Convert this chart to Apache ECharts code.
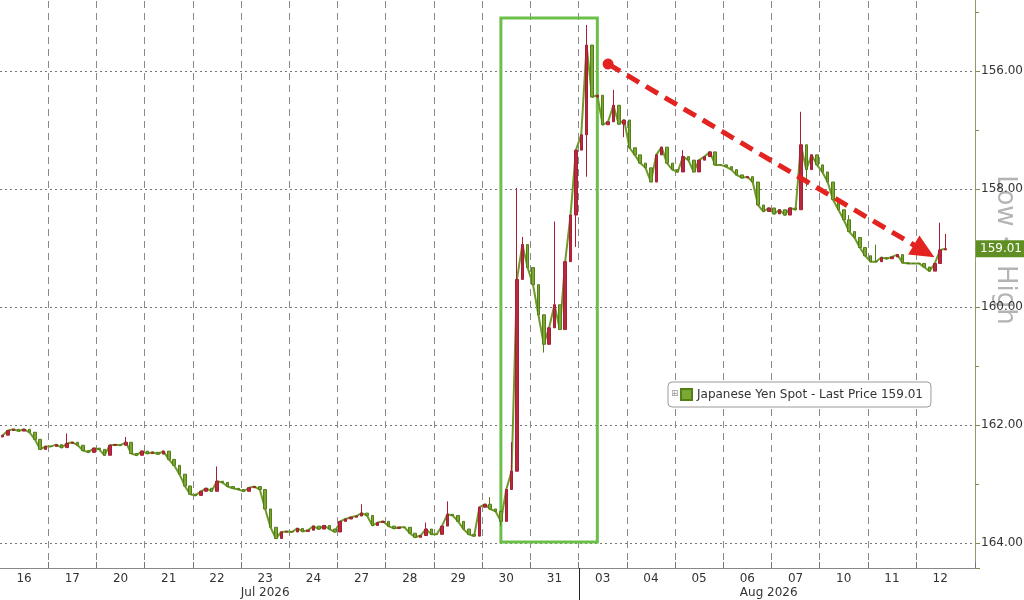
<!DOCTYPE html>
<html><head><meta charset="utf-8">
<script src="https://cdn.jsdelivr.net/npm/echarts@6/dist/echarts.min.js"></script>
<style>html,body{margin:0;padding:0;background:#fff;overflow:hidden;width:1024px;height:600px;position:relative}
#c{position:absolute;left:0;top:-47px;width:1024px;height:647px}</style>
</head><body><div id="c"></div>
<script>
// ---- data ----
const days = ['16','17','20','21','22','23','24','27','28','29','30','31','03','04','05','06','07','10','11','12'];
const monthNames = ['Jul 2026', 'Aug 2026'];
const monthLabelSlots = [49, 143];
const monthStartSlot = 108;
const slotsPerDay = 9;
const totalSlots = 182;
const firstOpen = 162.20;
const closes = [
  162.17,162.09,162.07,162.10,162.07,162.12,162.24,162.41,162.36,
  162.36,162.33,162.38,162.31,162.29,162.34,162.43,162.46,162.39,
  162.41,162.51,162.34,162.33,162.34,162.29,162.48,162.51,162.44,
  162.48,162.46,162.49,162.44,162.58,162.68,162.83,163.03,163.17,
  163.19,163.12,163.07,163.12,162.95,162.97,163.04,163.07,163.09,
  163.12,163.06,163.04,163.09,163.42,163.73,163.92,163.81,163.80,
  163.81,163.75,163.80,163.78,163.71,163.76,163.70,163.76,163.81,
  163.63,163.59,163.56,163.54,163.49,163.53,163.70,163.65,163.63,
  163.71,163.75,163.73,163.73,163.83,163.90,163.87,163.76,163.85,
  163.85,163.71,163.51,163.53,163.63,163.76,163.85,163.88,163.39,
  163.34,163.42,163.46,163.63,163.09,162.78,159.53,158.94,159.33,
  159.62,160.13,160.63,160.35,159.96,160.38,159.23,158.44,157.34,
  157.08,155.56,156.44,156.41,156.91,156.86,156.58,156.90,156.83,
  157.30,157.42,157.56,157.64,157.88,157.42,157.29,157.56,157.67,
  157.71,157.45,157.51,157.71,157.51,157.45,157.37,157.59,157.59,
  157.62,157.67,157.76,157.81,157.79,157.88,158.27,158.38,158.32,
  158.42,158.35,158.44,158.32,158.35,157.25,157.67,157.42,157.59,
  157.71,157.88,158.18,158.35,158.52,158.72,158.82,158.99,159.13,
  159.23,159.23,159.16,159.18,159.15,159.11,159.25,159.26,159.26,
  159.26,159.32,159.39,159.26,159.03,159.01
];
const spikes = [
  [12,162.14],[23,162.20],[40,162.70],[67,163.34],[79,163.65],[83,163.29],
  [91,163.22],[93,163.71],[95,162.29],[96,157.98],[97,158.81],
  [101,160.77],[103,158.55],[107,158.98],
  [109,155.22],[109,157.79],[114,156.32],[116,157.12],
  [127,157.34],[149,156.69],[150,157.96],[158,158.44],[163,158.94],
  [175,158.57],[176,158.76]
];
const lastPrice = 159.01;
const seriesName = 'Japanese Yen Spot - Last Price 159.01';
const boxCorners = [[93,155.10],[111,163.98]];
const arrowEnds = [[113,155.88],[172,159.05]];
const yMin = 154, yMax = 164.42;

// ---- build ----
const slotIds = Array.from({length: totalSlots}, (_, i) => String(i));
const candles = [];
let prev = firstOpen;
closes.forEach(c => { candles.push([prev, c, Math.min(prev, c), Math.max(prev, c)]); prev = c; });
spikes.forEach(([i, v]) => { candles[i][2] = Math.min(candles[i][2], v); candles[i][3] = Math.max(candles[i][3], v); });

const nDaySlots = days.length * slotsPerDay;
const isDayBoundary = i => { const n = Number(i); return n % slotsPerDay === 0 && n > 0 && n < nDaySlots; };
const font = 'DejaVu Sans';

const chart = echarts.init(document.getElementById('c'), null, {renderer: 'canvas'});
chart.setOption({
  animation: false,
  backgroundColor: '#fff',
  grid: {left: 0, right: 49, top: 0, bottom: 32, containLabel: false, outerBoundsMode: 'none'},
  legend: {
    left: 668, top: 429, padding: [6, 8, 6, 12], itemWidth: 11, itemHeight: 11, icon: 'rect',
    borderColor: '#9a9a9a', borderWidth: 1, borderRadius: 4, backgroundColor: '#fff',
    textStyle: {color: '#333', fontSize: 12, fontFamily: font},
    data: [seriesName]
  },
  xAxis: [{
    type: 'category', data: slotIds, boundaryGap: true, position: 'bottom',
    axisLine: {show: true, lineStyle: {color: '#888', width: 1}},
    axisTick: {show: true, inside: true, length: 6, interval: isDayBoundary, lineStyle: {color: '#777'}},
    axisLabel: {interval: i => Number(i) % slotsPerDay === 4 && Number(i) < nDaySlots,
      formatter: (v, i) => days[Math.floor(i / slotsPerDay)], color: '#333', fontSize: 12, fontFamily: font, margin: 5},
    splitLine: {show: true, interval: isDayBoundary, lineStyle: {color: '#8a8a8a', type: [7, 5], width: 1}}
  }, {
    type: 'category', data: slotIds, boundaryGap: true, position: 'bottom',
    axisLine: {show: false}, axisTick: {show: false},
    axisLabel: {interval: i => monthLabelSlots.includes(Number(i)),
      formatter: (v, i) => monthNames[monthLabelSlots.indexOf(Number(i))], color: '#333', fontSize: 12, fontFamily: font, margin: 19},
    splitLine: {show: false}
  }],
  yAxis: {
    type: 'value', position: 'right', inverse: true, min: yMin, max: yMax, interval: 2,
    axisLine: {show: true, lineStyle: {color: '#8f9c6a'}},
    axisTick: {show: true, length: 5, lineStyle: {color: '#7d8a55'}},
    minorTick: {show: true, splitNumber: 2, length: 4, lineStyle: {color: '#7d8a55'}},
    axisLabel: {color: '#333', fontSize: 12, fontFamily: font, margin: 6, showMaxLabel: false,
      formatter: v => v.toFixed(2)},
    splitLine: {show: true, lineStyle: {color: '#777', type: [2, 3], width: 1}}
  },
  series: [{
    type: 'line', data: closes, xAxisIndex: 0, showSymbol: false, symbol: 'none',
    lineStyle: {color: '#6e9a2a', width: 2}, itemStyle: {color: '#6e9a2a'}, z: 2, silent: true
  }, {
    type: 'candlestick', name: seriesName, data: candles, barWidth: 3, xAxisIndex: 0, z: 3,
    itemStyle: {color: '#7aa832', color0: '#b8283f', borderColor: '#557d18', borderColor0: '#a51f36', borderWidth: 1},
    markArea: {
      silent: true,
      itemStyle: {color: 'rgba(0,0,0,0)', borderColor: '#6cc04a', borderWidth: 3},
      data: [[{coord: boxCorners[0]}, {coord: boxCorners[1]}]]
    },
    markLine: {
      silent: true, symbol: ['none', 'none'], clip: false,
      lineStyle: {color: '#e3231f', width: 5, type: [14, 8]},
      label: {show: false},
      data: [
        [{coord: arrowEnds[0], symbol: 'circle', symbolSize: 11},
         {coord: arrowEnds[1], symbol: 'triangle', symbolSize: [22, 24]}],
        {yAxis: lastPrice, symbol: 'none', lineStyle: {color: 'rgba(0,0,0,0)', width: 1, type: 'solid'},
         label: {show: true, position: 'end', formatter: lastPrice.toFixed(2), color: '#fff',
           backgroundColor: '#5f8f22', padding: [3, 4, 2, 4], fontSize: 12, fontFamily: font, distance: 1}}
      ]
    }
  }]
});

// month divider below the axis, placed through the axis scale
const xa = chart.convertToPixel({xAxisIndex: 0}, monthStartSlot);
const xb = chart.convertToPixel({xAxisIndex: 0}, monthStartSlot - 1);
const xDiv = Math.round((xa + xb) / 2) + 0.5;
const yAxisBottom = chart.convertToPixel({yAxisIndex: 0}, yMax);
chart.setOption({
  graphic: [
    {type: 'line', z: 50, shape: {x1: xDiv, y1: yAxisBottom, x2: xDiv, y2: chart.getHeight()},
      style: {stroke: '#222', lineWidth: 1}},
    {type: 'text', x: 1005, y: 297, rotation: -Math.PI / 2, z: 0,
      style: {text: 'Low < High', fill: '#b4b4b4', font: '26px "DejaVu Sans"', align: 'center', verticalAlign: 'middle'}},
    {type: 'text', left: 671, top: 436, z: 100,
      style: {text: '\u229e', fill: '#999', font: '9px "DejaVu Sans"'}}
  ]
});
</script></body></html>
